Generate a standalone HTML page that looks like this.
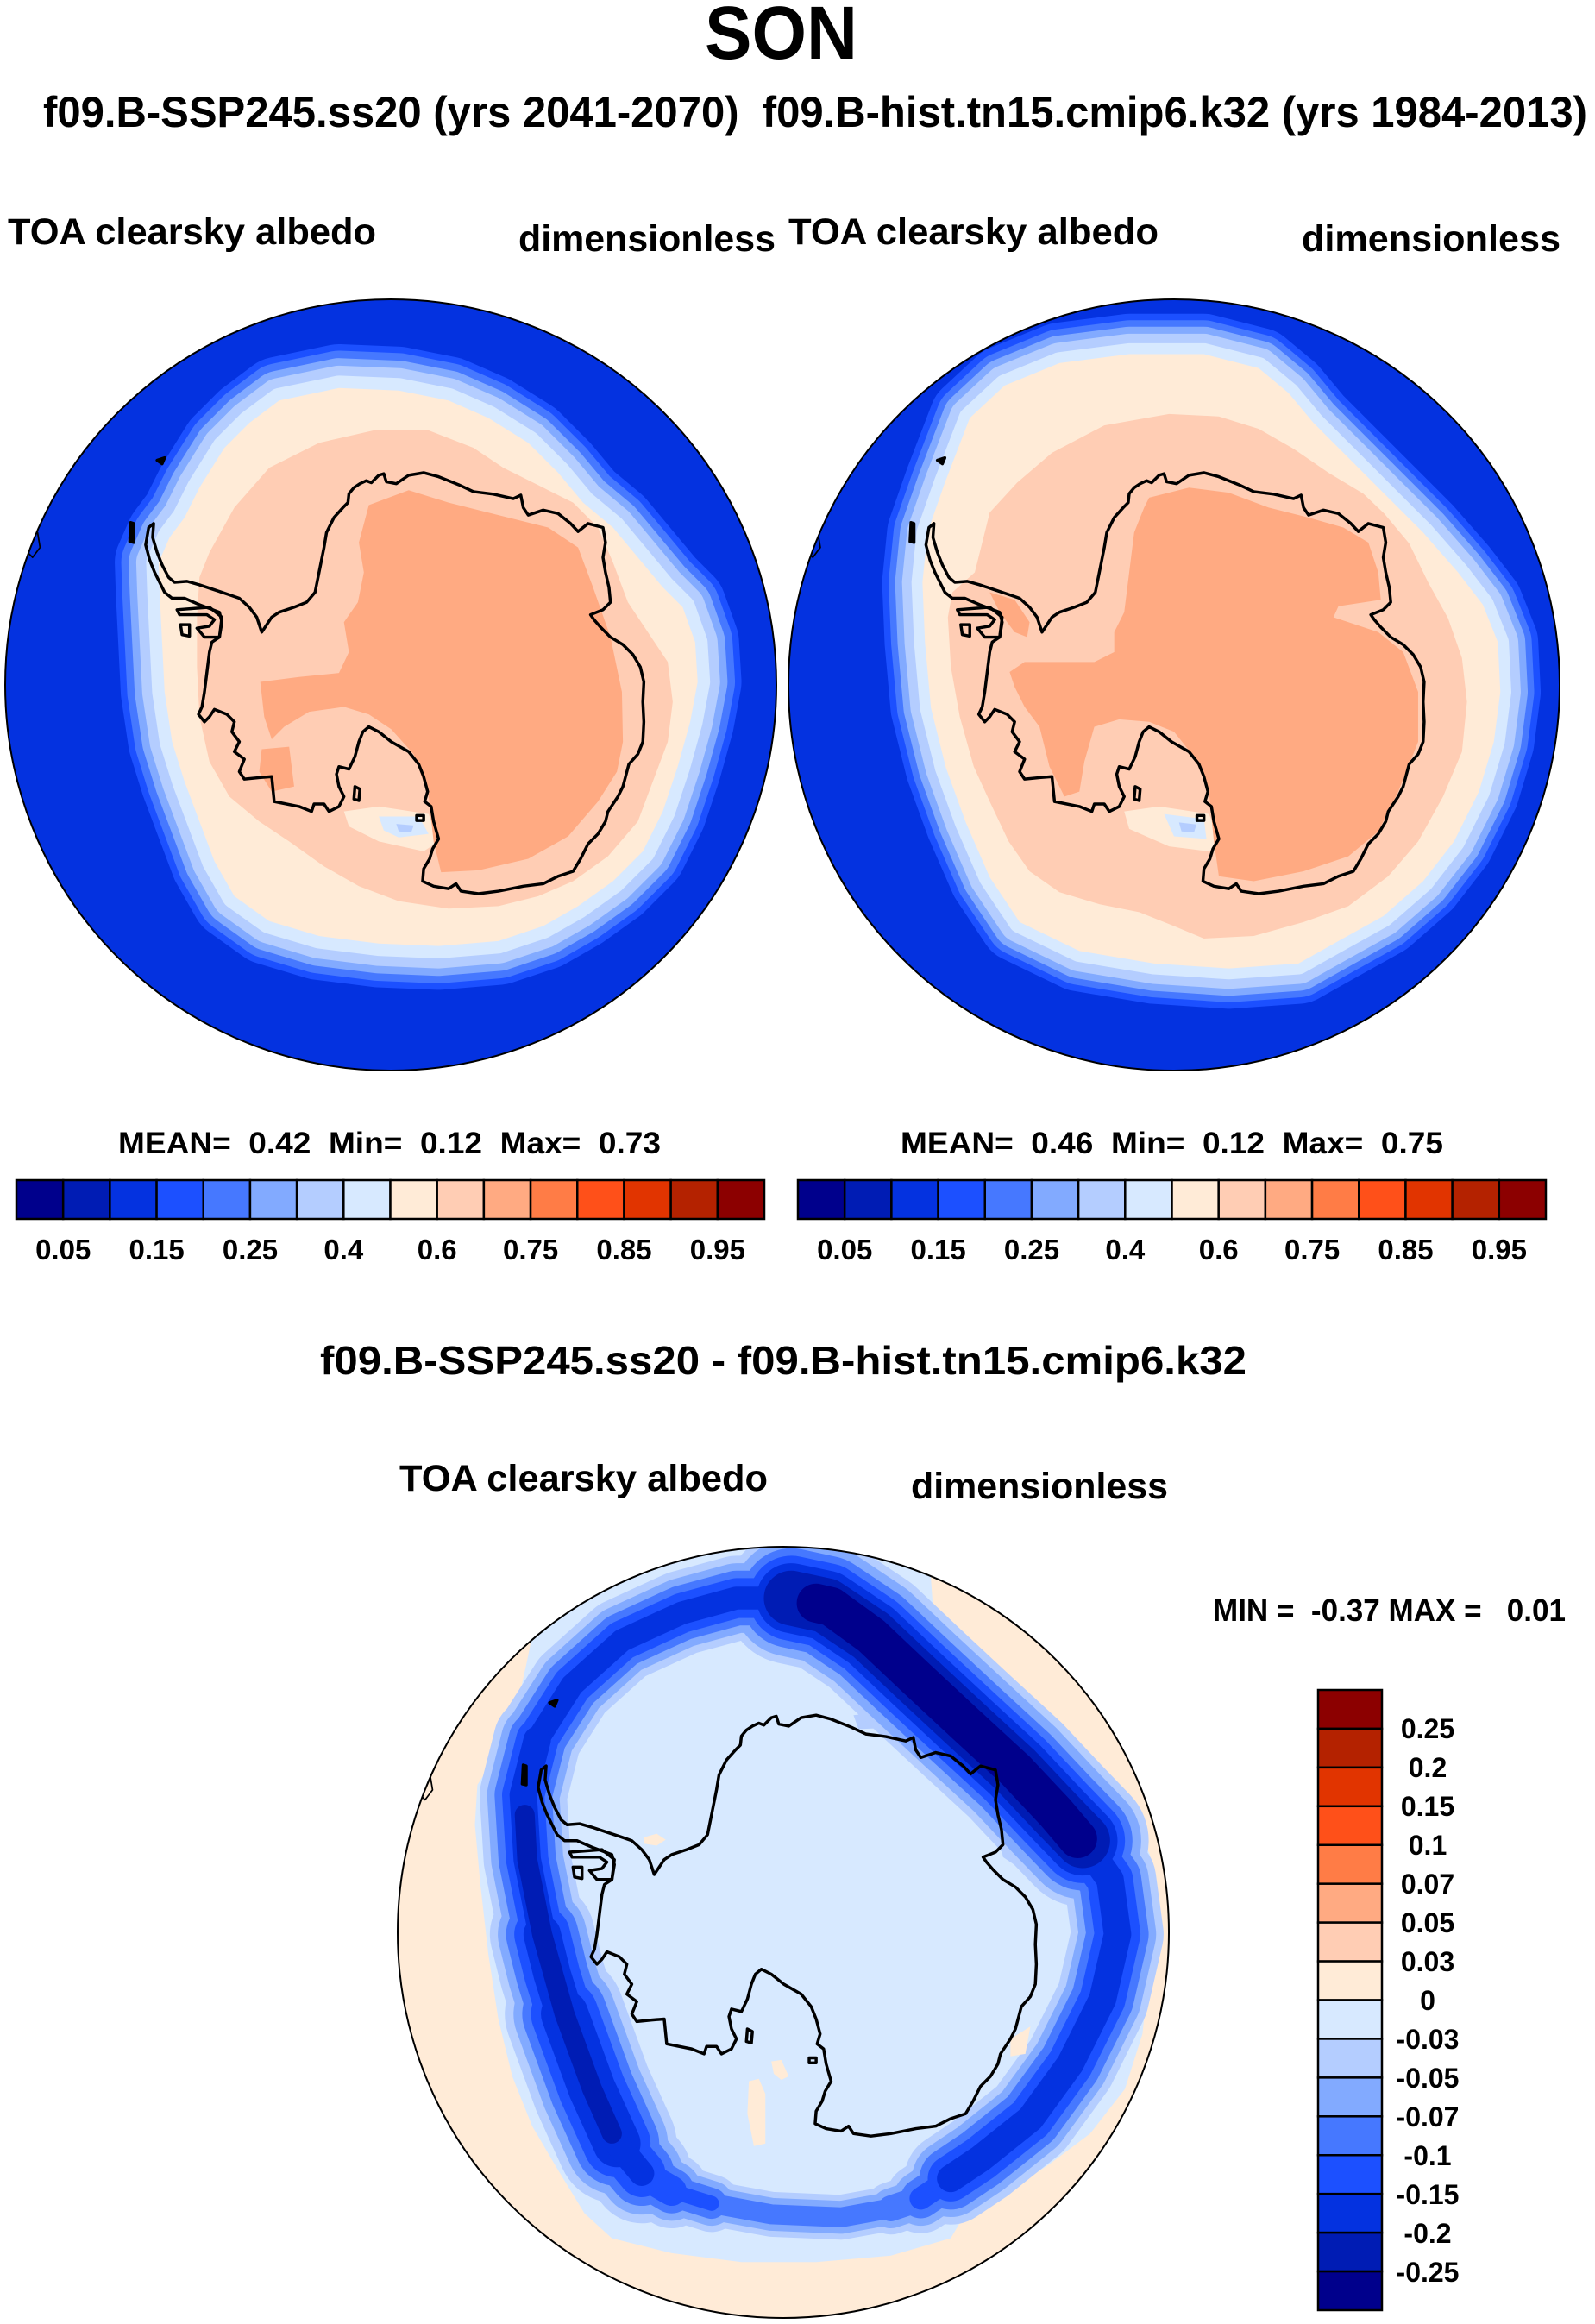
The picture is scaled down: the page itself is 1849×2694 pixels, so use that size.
<!DOCTYPE html>
<html><head><meta charset="utf-8"><style>
html,body{margin:0;padding:0;background:#fff;}
svg{display:block;}
text{font-family:"Liberation Sans",Arial,sans-serif;font-weight:bold;fill:#000;white-space:pre;}
</style></head><body>
<svg width="1849" height="2694" viewBox="0 0 1849 2694" xmlns="http://www.w3.org/2000/svg">
<defs>
<clipPath id="cL"><circle cx="453" cy="794" r="447"/></clipPath>
<clipPath id="cR"><circle cx="1361" cy="794" r="447"/></clipPath>
<clipPath id="cB"><circle cx="908" cy="2240" r="447"/></clipPath>
<path id="CL" d="M560,215 680,190 800,195 900,215 980,250 1060,300 1120,360 1170,420 1230,470 1280,530 1330,590 1370,630 1395,700 1400,780 1385,860 1360,950 1330,1040 1290,1120 1230,1180 1160,1230 1090,1270 1000,1300 880,1310 760,1305 640,1290 540,1260 470,1210 430,1140 400,1060 370,980 345,900 330,800 325,700 320,600 318,540 340,490 370,450 400,390 450,310 500,260 Z"/>
<path id="CR" d="M380,250 450,185 560,140 700,122 850,122 960,150 1020,200 1070,260 1140,330 1210,400 1290,480 1360,560 1410,625 1440,700 1445,800 1432,900 1402,1000 1352,1100 1290,1180 1210,1250 1120,1300 1040,1345 900,1355 750,1345 600,1320 480,1262 420,1172 372,1062 332,952 302,832 290,700 285,580 295,480 330,380 Z"/>
<path id="NE" d="M800,125 870,140 960,200 1050,285 1150,378 1250,470 1330,555 1385,612"/>
<path id="SR" d="M1385,612 1440,690 1455,800 1425,930 1360,1060 1280,1170 1180,1250 1120,1290"/>
<path id="SRt1" d="M1120,1290 1060,1330"/>
<path id="SRt2" d="M1060,1330 1000,1350"/>
<path id="SB" d="M1000,1350 900,1368 760,1362 640,1340"/>
<path id="SC3" d="M560,1315 640,1340"/>
<path id="SC2" d="M500,1280 560,1315"/>
<path id="SC1" d="M450,1220 500,1280"/>
<path id="SL2" d="M345,960 400,1110 450,1220"/>
<path id="SLm" d="M300,800 320,880 345,960"/>
<path id="SL1" d="M290,410 262,520 270,650 300,800"/>
<path id="ST" d="M290,410 360,300 460,210 580,155 690,125 800,125"/>
<g id="coast" fill="none" stroke="#000" stroke-width="6" stroke-linejoin="round">
<path d="M525,680 535,665 545,650 560,640 590,630 615,620 632,600 640,560 650,510 655,480 670,450 688,430 698,420 700,402 710,390 722,382 735,376 745,380 760,365 770,362 775,378 795,382 820,365 850,360 880,368 920,384 950,398 990,403 1030,412 1045,405 1050,430 1060,445 1090,435 1120,442 1145,462 1160,478 1180,462 1210,470 1215,500 1210,530 1215,560 1222,590 1225,620 1210,635 1185,645 1192,655 1205,670 1225,690 1250,705 1270,725 1285,750 1292,780 1290,820 1292,860 1290,900 1280,925 1262,945 1258,960 1250,990 1240,1010 1220,1040 1215,1060 1200,1085 1180,1105 1165,1135 1150,1160 1120,1170 1090,1185 1050,1190 1000,1200 960,1205 925,1200 915,1185 900,1195 870,1190 848,1180 850,1155 862,1135 868,1115 880,1095 870,1060 865,1030 852,1020 858,1000 850,970 840,945 820,920 785,900 760,880 740,870 728,880 720,900 712,930 700,955 680,950 675,965 680,990 690,1010 680,1030 660,1040 650,1025 630,1025 625,1040 600,1030 550,1020 548,1000 545,970 520,972 490,975 480,960 490,935 470,920 480,900 465,880 470,860 455,845 430,835 420,850 410,860 398,845 405,830 410,800 415,760 420,720 425,700 440,690 445,660 440,640 400,625 370,612 345,612 330,600 320,580 310,560 300,535 292,505 298,470 308,462 306,490 315,520 325,545 338,570 350,580 375,578 400,585 430,595 460,605 480,612 500,630 515,650 Z"/>
<path d="M355,635 420,630 445,650 440,690 410,690 395,672 420,668 430,655 415,645 360,645 Z"/>
<path d="M362,665 380,665 380,688 365,685 Z"/>
<path d="M712,990 722,995 720,1018 710,1015 Z"/>
<path d="M836,1048 850,1048 850,1058 836,1058 Z"/>
<path d="M60,490 75,480 80,510 65,530 55,520 Z" stroke-width="3"/>
<path d="M315,335 330,330 325,342 Z" fill="#000"/>
<path d="M262,460 268,462 268,500 260,498 Z" fill="#000"/>
</g>
</defs>

<!-- Titles -->
<text x="817" y="68" font-size="87" textLength="177" lengthAdjust="spacingAndGlyphs">SON</text>
<text x="50" y="147" font-size="50" textLength="1790" lengthAdjust="spacingAndGlyphs">f09.B-SSP245.ss20 (yrs 2041-2070)  f09.B-hist.tn15.cmip6.k32 (yrs 1984-2013)</text>
<text x="9" y="283" font-size="43" textLength="427" lengthAdjust="spacingAndGlyphs">TOA clearsky albedo</text>
<text x="601" y="291" font-size="43" textLength="298" lengthAdjust="spacingAndGlyphs">dimensionless</text>
<text x="914" y="283" font-size="43" textLength="429" lengthAdjust="spacingAndGlyphs">TOA clearsky albedo</text>
<text x="1509" y="291" font-size="43" textLength="300" lengthAdjust="spacingAndGlyphs">dimensionless</text>

<!-- LEFT MAP -->
<g clip-path="url(#cL)">
<circle cx="453" cy="794" r="447" fill="#0432E0"/>
<g transform="translate(453,794) scale(0.5775) translate(-784,-786)" stroke-linejoin="round">
<use href="#CL" fill="none" stroke="#1C50FF" stroke-width="176"/>
<use href="#CL" fill="none" stroke="#4678FF" stroke-width="150"/>
<use href="#CL" fill="none" stroke="#82AAFF" stroke-width="120"/>
<use href="#CL" fill="none" stroke="#B4CDFF" stroke-width="90"/>
<use href="#CL" fill="none" stroke="#D7E9FF" stroke-width="50"/>
<use href="#CL" fill="#FFEBD7" stroke="none"/>
<path fill="#FFCDB4" d="M420,520 470,430 540,350 640,300 750,275 860,275 950,310 1010,350 1090,390 1150,420 1200,470 1230,540 1260,620 1300,680 1340,740 1350,820 1340,900 1310,980 1280,1060 1220,1130 1150,1180 1080,1210 1000,1230 900,1235 800,1220 720,1190 650,1150 580,1100 520,1060 460,1010 420,940 400,850 395,750 395,650 400,570 Z"/>
<path fill="#FFEBD7" d="M690,1040 760,1030 860,1045 880,1100 850,1120 760,1100 700,1070 Z"/>
<path fill="#D7E9FF" d="M760,1050 840,1050 860,1085 800,1092 770,1078 Z"/>
<path fill="#B4CDFF" d="M795,1065 830,1068 825,1082 800,1080 Z"/>
<path fill="#FFAA82" d="M740,425 820,395 900,420 1000,445 1100,470 1160,510 1190,590 1225,690 1248,800 1250,900 1238,960 1200,1020 1140,1090 1060,1135 960,1158 885,1162 870,1100 860,1010 830,925 785,875 740,845 690,830 620,840 570,870 545,895 530,850 522,780 600,770 680,762 700,720 690,660 718,620 730,560 720,500 Z"/>
<path fill="#FFAA82" d="M525,915 580,910 590,990 545,1000 520,960 Z"/>
<use href="#coast"/>
</g>
</g>
<circle cx="453" cy="794" r="447" fill="none" stroke="#000" stroke-width="2"/>

<!-- RIGHT MAP -->
<g clip-path="url(#cR)">
<circle cx="1361" cy="794" r="447" fill="#0432E0"/>
<g transform="translate(1361,794) scale(0.5775) translate(-790,-786)" stroke-linejoin="round">
<use href="#CR" fill="none" stroke="#1C50FF" stroke-width="162"/>
<use href="#CR" fill="none" stroke="#4678FF" stroke-width="136"/>
<use href="#CR" fill="none" stroke="#82AAFF" stroke-width="110"/>
<use href="#CR" fill="none" stroke="#B4CDFF" stroke-width="82"/>
<use href="#CR" fill="none" stroke="#D7E9FF" stroke-width="44"/>
<use href="#CR" fill="#FFEBD7" stroke="none"/>
<path fill="#FFCDB4" d="M405,500 420,440 475,380 545,320 650,265 780,242 880,247 960,272 1030,312 1100,360 1170,402 1212,442 1262,502 1300,580 1340,652 1368,732 1378,820 1368,920 1330,1010 1280,1100 1220,1170 1140,1230 1050,1262 950,1290 850,1295 790,1270 720,1242 640,1226 560,1202 500,1160 458,1100 420,1020 388,950 360,850 342,750 336,650 345,600 390,560 Z"/>
<path fill="#FFEBD7" d="M690,1040 760,1030 860,1045 885,1100 860,1120 780,1110 700,1075 Z"/>
<path fill="#D7E9FF" d="M770,1045 850,1055 855,1095 790,1090 Z"/>
<path fill="#B4CDFF" d="M800,1062 835,1066 830,1082 805,1080 Z"/>
<path fill="#FFAA82" d="M740,410 820,390 900,400 980,430 1060,450 1130,470 1180,500 1200,560 1205,615 1120,628 1110,650 1200,680 1250,720 1280,800 1280,900 1260,950 1240,1000 1200,1080 1140,1130 1050,1160 950,1180 880,1170 870,1100 860,1000 830,930 790,880 740,860 680,855 630,870 610,940 600,1000 570,1010 540,950 520,870 490,830 470,790 460,760 490,740 560,740 630,740 670,720 670,680 690,640 700,560 710,480 730,430 Z"/>
<path fill="#FFAA82" d="M420,600 470,615 500,660 495,690 470,680 440,640 Z"/>
<use href="#coast"/>
</g>
</g>
<circle cx="1361" cy="794" r="447" fill="none" stroke="#000" stroke-width="2"/>

<!-- Colorbar texts top -->
<text x="137" y="1337" font-size="35" textLength="629" lengthAdjust="spacingAndGlyphs">MEAN=  0.42  Min=  0.12  Max=  0.73</text>
<text x="1044" y="1337" font-size="35" textLength="629" lengthAdjust="spacingAndGlyphs">MEAN=  0.46  Min=  0.12  Max=  0.75</text>

<!-- Left colorbar -->
<g stroke="#000" stroke-width="2.5">
<rect x="19" y="1368" width="54.19" height="45" fill="#00008C"/>
<rect x="73.19" y="1368" width="54.19" height="45" fill="#001CB4"/>
<rect x="127.38" y="1368" width="54.19" height="45" fill="#0432E0"/>
<rect x="181.56" y="1368" width="54.19" height="45" fill="#1C50FF"/>
<rect x="235.75" y="1368" width="54.19" height="45" fill="#4678FF"/>
<rect x="289.94" y="1368" width="54.19" height="45" fill="#82AAFF"/>
<rect x="344.13" y="1368" width="54.19" height="45" fill="#B4CDFF"/>
<rect x="398.31" y="1368" width="54.19" height="45" fill="#D7E9FF"/>
<rect x="452.5" y="1368" width="54.19" height="45" fill="#FFEBD7"/>
<rect x="506.69" y="1368" width="54.19" height="45" fill="#FFCDB4"/>
<rect x="560.88" y="1368" width="54.19" height="45" fill="#FFAA82"/>
<rect x="615.06" y="1368" width="54.19" height="45" fill="#FF7C46"/>
<rect x="669.25" y="1368" width="54.19" height="45" fill="#FF5019"/>
<rect x="723.44" y="1368" width="54.19" height="45" fill="#E13400"/>
<rect x="777.63" y="1368" width="54.19" height="45" fill="#B42200"/>
<rect x="831.81" y="1368" width="54.19" height="45" fill="#8C0000"/>
</g>
<g font-size="33" text-anchor="middle">
<text x="73.2" y="1460">0.05</text><text x="181.6" y="1460">0.15</text><text x="290" y="1460">0.25</text><text x="398.3" y="1460">0.4</text>
<text x="506.7" y="1460">0.6</text><text x="615.1" y="1460">0.75</text><text x="723.5" y="1460">0.85</text><text x="831.9" y="1460">0.95</text>
</g>

<!-- Right colorbar -->
<g stroke="#000" stroke-width="2.5" transform="translate(906,0)">
<rect x="19" y="1368" width="54.19" height="45" fill="#00008C"/>
<rect x="73.19" y="1368" width="54.19" height="45" fill="#001CB4"/>
<rect x="127.38" y="1368" width="54.19" height="45" fill="#0432E0"/>
<rect x="181.56" y="1368" width="54.19" height="45" fill="#1C50FF"/>
<rect x="235.75" y="1368" width="54.19" height="45" fill="#4678FF"/>
<rect x="289.94" y="1368" width="54.19" height="45" fill="#82AAFF"/>
<rect x="344.13" y="1368" width="54.19" height="45" fill="#B4CDFF"/>
<rect x="398.31" y="1368" width="54.19" height="45" fill="#D7E9FF"/>
<rect x="452.5" y="1368" width="54.19" height="45" fill="#FFEBD7"/>
<rect x="506.69" y="1368" width="54.19" height="45" fill="#FFCDB4"/>
<rect x="560.88" y="1368" width="54.19" height="45" fill="#FFAA82"/>
<rect x="615.06" y="1368" width="54.19" height="45" fill="#FF7C46"/>
<rect x="669.25" y="1368" width="54.19" height="45" fill="#FF5019"/>
<rect x="723.44" y="1368" width="54.19" height="45" fill="#E13400"/>
<rect x="777.63" y="1368" width="54.19" height="45" fill="#B42200"/>
<rect x="831.81" y="1368" width="54.19" height="45" fill="#8C0000"/>
</g>
<g font-size="33" text-anchor="middle">
<text x="979.2" y="1460">0.05</text><text x="1087.6" y="1460">0.15</text><text x="1196" y="1460">0.25</text><text x="1304.3" y="1460">0.4</text>
<text x="1412.7" y="1460">0.6</text><text x="1521.1" y="1460">0.75</text><text x="1629.5" y="1460">0.85</text><text x="1737.9" y="1460">0.95</text>
</g>

<!-- Bottom titles -->
<text x="371" y="1593" font-size="46" textLength="1074" lengthAdjust="spacingAndGlyphs">f09.B-SSP245.ss20 - f09.B-hist.tn15.cmip6.k32</text>
<text x="463" y="1728" font-size="43" textLength="427" lengthAdjust="spacingAndGlyphs">TOA clearsky albedo</text>
<text x="1056" y="1737" font-size="43" textLength="298" lengthAdjust="spacingAndGlyphs">dimensionless</text>
<text x="1406" y="1879" font-size="36" textLength="409" lengthAdjust="spacingAndGlyphs">MIN =  -0.37 MAX =   0.01</text>

<!-- BOTTOM MAP -->
<g clip-path="url(#cB)">
<circle cx="908" cy="2240" r="447" fill="#FFEBD7"/>
<g transform="translate(908,2240) scale(0.5775) translate(-784,-796)" stroke-linejoin="round" stroke-linecap="round">
<path fill="#D7E9FF" d="M278,210 A774,774 0 0 1 1080,81 L1085,150 1130,230 1200,300 1300,400 1400,490 1480,560 1520,640 1528,760 1518,880 1505,1000 1470,1110 1400,1200 1320,1260 1230,1320 1150,1360 1120,1410 1000,1445 850,1458 700,1458 560,1440 440,1410 385,1360 330,1270 280,1185 240,1085 212,970 192,840 176,700 165,580 170,500 215,430 250,340 270,250 Z"/>
<path fill="#B4CDFF" d="M925,360 990,352 1005,385 935,388 Z"/>
<path fill="#B4CDFF" d="M1190,500 1235,520 1262,600 1255,665 1225,645 1210,560 Z"/>
<g fill="none">
<!-- level B4CDFF -->
<use href="#ST" stroke="#B4CDFF" stroke-width="170"/>
<use href="#SL1" stroke="#B4CDFF" stroke-width="175"/>
<use href="#SLm" stroke="#B4CDFF" stroke-width="210"/>
<use href="#SL2" stroke="#B4CDFF" stroke-width="240"/>
<use href="#SC1" stroke="#B4CDFF" stroke-width="200"/>
<use href="#SC2" stroke="#B4CDFF" stroke-width="150"/>
<use href="#SC3" stroke="#B4CDFF" stroke-width="115"/>
<use href="#SB" stroke="#B4CDFF" stroke-width="90"/>
<use href="#SRt2" stroke="#B4CDFF" stroke-width="105"/>
<use href="#SRt1" stroke="#B4CDFF" stroke-width="140"/>
<use href="#SR" stroke="#B4CDFF" stroke-width="185"/>
<use href="#NE" stroke="#B4CDFF" stroke-width="265"/>
<!-- level 82AAFF -->
<use href="#ST" stroke="#82AAFF" stroke-width="140"/>
<use href="#SL1" stroke="#82AAFF" stroke-width="145"/>
<use href="#SLm" stroke="#82AAFF" stroke-width="178"/>
<use href="#SL2" stroke="#82AAFF" stroke-width="205"/>
<use href="#SC1" stroke="#82AAFF" stroke-width="165"/>
<use href="#SC2" stroke="#82AAFF" stroke-width="120"/>
<use href="#SC3" stroke="#82AAFF" stroke-width="90"/>
<use href="#SB" stroke="#82AAFF" stroke-width="66"/>
<use href="#SRt2" stroke="#82AAFF" stroke-width="80"/>
<use href="#SRt1" stroke="#82AAFF" stroke-width="110"/>
<use href="#SR" stroke="#82AAFF" stroke-width="155"/>
<use href="#NE" stroke="#82AAFF" stroke-width="235"/>
<!-- level 4678FF -->
<use href="#ST" stroke="#4678FF" stroke-width="110"/>
<use href="#SL1" stroke="#4678FF" stroke-width="115"/>
<use href="#SLm" stroke="#4678FF" stroke-width="145"/>
<use href="#SL2" stroke="#4678FF" stroke-width="170"/>
<use href="#SC1" stroke="#4678FF" stroke-width="130"/>
<use href="#SC2" stroke="#4678FF" stroke-width="90"/>
<use href="#SC3" stroke="#4678FF" stroke-width="62"/>
<use href="#SB" stroke="#4678FF" stroke-width="40"/>
<use href="#SRt2" stroke="#4678FF" stroke-width="52"/>
<use href="#SRt1" stroke="#4678FF" stroke-width="80"/>
<use href="#SR" stroke="#4678FF" stroke-width="125"/>
<use href="#NE" stroke="#4678FF" stroke-width="200"/>
<!-- level 1C50FF -->
<use href="#ST" stroke="#1C50FF" stroke-width="80"/>
<use href="#SL1" stroke="#1C50FF" stroke-width="85"/>
<use href="#SLm" stroke="#1C50FF" stroke-width="112"/>
<use href="#SL2" stroke="#1C50FF" stroke-width="135"/>
<use href="#SC1" stroke="#1C50FF" stroke-width="95"/>
<use href="#SC2" stroke="#1C50FF" stroke-width="60"/>
<use href="#SC3" stroke="#1C50FF" stroke-width="30"/>
<use href="#SRt1" stroke="#1C50FF" stroke-width="45"/>
<use href="#SR" stroke="#1C50FF" stroke-width="92"/>
<use href="#NE" stroke="#1C50FF" stroke-width="170"/>
<!-- level 0432E0 -->
<use href="#ST" stroke="#0432E0" stroke-width="46"/>
<use href="#SL1" stroke="#0432E0" stroke-width="55"/>
<use href="#SLm" stroke="#0432E0" stroke-width="75"/>
<use href="#SL2" stroke="#0432E0" stroke-width="95"/>
<use href="#SC1" stroke="#0432E0" stroke-width="50"/>
<use href="#SR" stroke="#0432E0" stroke-width="55"/>
<use href="#NE" stroke="#0432E0" stroke-width="140"/>
<!-- level 001CB4 -->
<path d="M265,560 270,650 300,800 345,960 400,1110 440,1200" stroke="#001CB4" stroke-width="40"/>
<use href="#NE" stroke="#001CB4" stroke-width="110"/>
<!-- level 00008C -->
<path d="M850,135 880,142 960,200 1050,285 1150,378 1250,470 1330,555 1375,608" stroke="#00008C" stroke-width="78"/>
</g>
<path fill="#FFEBD7" d="M715,1095 735,1090 748,1120 748,1220 725,1225 712,1160 Z"/>
<path fill="#FFEBD7" d="M760,1055 780,1052 795,1085 780,1092 765,1080 Z"/>
<path fill="#FFEBD7" d="M505,605 530,598 548,610 530,622 505,618 Z"/>
<path fill="#FFEBD7" d="M1240,1010 1280,985 1270,1040 1240,1045 Z"/>
<use href="#coast"/>
</g>
</g>
<circle cx="908" cy="2240" r="447" fill="none" stroke="#000" stroke-width="2"/>

<!-- Bottom colorbar -->
<g stroke="#000" stroke-width="2.5">
<rect x="1528" y="1959" width="74" height="44.94" fill="#8C0000"/>
<rect x="1528" y="2003.94" width="74" height="44.94" fill="#B42200"/>
<rect x="1528" y="2048.88" width="74" height="44.94" fill="#E13400"/>
<rect x="1528" y="2093.81" width="74" height="44.94" fill="#FF5019"/>
<rect x="1528" y="2138.75" width="74" height="44.94" fill="#FF7C46"/>
<rect x="1528" y="2183.69" width="74" height="44.94" fill="#FFAA82"/>
<rect x="1528" y="2228.63" width="74" height="44.94" fill="#FFCDB4"/>
<rect x="1528" y="2273.56" width="74" height="44.94" fill="#FFEBD7"/>
<rect x="1528" y="2318.5" width="74" height="44.94" fill="#D7E9FF"/>
<rect x="1528" y="2363.44" width="74" height="44.94" fill="#B4CDFF"/>
<rect x="1528" y="2408.38" width="74" height="44.94" fill="#82AAFF"/>
<rect x="1528" y="2453.31" width="74" height="44.94" fill="#4678FF"/>
<rect x="1528" y="2498.25" width="74" height="44.94" fill="#1C50FF"/>
<rect x="1528" y="2543.19" width="74" height="44.94" fill="#0432E0"/>
<rect x="1528" y="2588.13" width="74" height="44.94" fill="#001CB4"/>
<rect x="1528" y="2633.06" width="74" height="44.94" fill="#00008C"/>
</g>
<g font-size="32" text-anchor="middle">
<text x="1655" y="2015">0.25</text>
<text x="1655" y="2060">0.2</text>
<text x="1655" y="2105">0.15</text>
<text x="1655" y="2150">0.1</text>
<text x="1655" y="2195">0.07</text>
<text x="1655" y="2240">0.05</text>
<text x="1655" y="2285">0.03</text>
<text x="1655" y="2330">0</text>
<text x="1655" y="2375">-0.03</text>
<text x="1655" y="2420">-0.05</text>
<text x="1655" y="2465">-0.07</text>
<text x="1655" y="2510">-0.1</text>
<text x="1655" y="2555">-0.15</text>
<text x="1655" y="2600">-0.2</text>
<text x="1655" y="2645">-0.25</text>
</g>
</svg>
</body></html>
